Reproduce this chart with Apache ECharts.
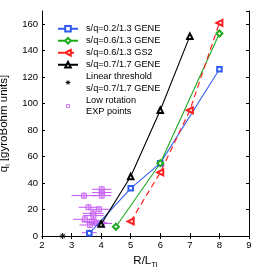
<!DOCTYPE html>
<html><head><meta charset="utf-8">
<script src="https://cdn.jsdelivr.net/npm/echarts@6/dist/echarts.min.js"></script>
<style>html,body{margin:0;padding:0;background:#fff}#c{width:257px;height:267px}</style>
</head><body><div id="c"></div>
<script>
const blueX=[3.6,5,6,8], blueY=[2,36,55,126];
const greenX=[4.5,6,8], greenY=[7,55,153];
const redX=[5,6,7,8], redY=[11,48,95,161];
const blackX=[4,5,6,7], blackY=[9,45,95,151];
const thrX=[2.7], thrY=[0];
const expX=[3.42,4.02,4.02,4.02,3.57,3.93,3.73,3.74,3.45,3.68,3.85,4.02,3.62,3.60];
const expY=[30.5,35.3,32.8,30.5,21.7,20.2,17.1,15.4,12.6,10.8,10.0,9.5,8.3,2.5];
const expErr=[0.42,0.33,0.33,0.33,0.33,0.35,0.35,0.35,0.40,0.35,0.35,0.35,0.35,0.25];
const names=['s/q=0.2/1.3 GENE','s/q=0.6/1.3 GENE','s/q=0.6/1.3 GS2','s/q=0.7/1.7 GENE','Linear threshold\ns/q=0.7/1.7 GENE','Low rotation\nEXP points'];
const xTicks={min:2,max:9,interval:1};
const yTicks={min:0,max:170,interval:20};

const zip=(a,b)=>a.map((v,i)=>[v,b[i]]);
const PURPLE='#c452f2';
const FONT='Liberation Sans, Arial, sans-serif';
function starPath(cx,cy,R,r){
  let s='';
  for(let k=0;k<16;k++){
    const ang=Math.PI/2+k*Math.PI/8, rad=(k%2===0)?R:r;
    const px=(cx+rad*Math.cos(ang)).toFixed(3), py=(cy-rad*Math.sin(ang)).toFixed(3);
    s+=(k===0?'M':'L')+px+','+py;
  }
  return s+'Z';
}
const chart=echarts.init(document.getElementById('c'),null,{renderer:'canvas'});
const axisCommon={axisLine:{lineStyle:{color:'#000',width:1}},axisTick:{inside:true,length:3,lineStyle:{color:'#000'}},splitLine:{show:false}};
const legendData=names.map((n,i)=>{
  if(i===5) return {name:n,icon:'path://M0,0M20,9M8,2.5L12,2.5L12,6.5L8,6.5Z',itemStyle:{color:'#fff',borderColor:PURPLE,borderWidth:1}};
  if(i===4) return {name:n,icon:'path://M0,0M20,9'+starPath(10,4.5,4,1.5),itemStyle:{color:'#000',borderWidth:0}};
  return {name:n};
});
chart.setOption({
  animation:false,
  grid:{left:42,right:8,top:11,bottom:31,containLabel:false,outerBoundsMode:'none'},
  textStyle:{fontFamily:FONT},
  legend:{
    orient:'vertical',left:52,top:18,itemWidth:20,itemHeight:7,itemGap:0.5,
    textStyle:{fontSize:9.2,fontFamily:FONT,color:'#000',lineHeight:11.5,padding:[0,0,0,3]},
    data:legendData
  },
  xAxis:[
    Object.assign({type:'value',min:xTicks.min,max:xTicks.max,interval:xTicks.interval,
      name:'{m|R/L}{s|Ti}',nameLocation:'middle',nameGap:9,
      nameTextStyle:{rich:{m:{fontSize:11.5,fontFamily:FONT,color:'#000'},s:{fontSize:8,fontFamily:FONT,color:'#000',padding:[8,0,0,0]}}},
      axisLabel:{fontSize:9.5,color:'#000',fontFamily:FONT,margin:4}},axisCommon),
    Object.assign({type:'value',position:'top',min:xTicks.min,max:xTicks.max,interval:xTicks.interval,axisLabel:{show:false}},axisCommon)
  ],
  yAxis:[
    Object.assign({type:'value',min:yTicks.min,max:yTicks.max,interval:yTicks.interval,
      name:'{m|q}{s|i}{m| [gyroBohm units]}',nameLocation:'middle',nameGap:30,
      nameTextStyle:{rich:{m:{fontSize:11.5,fontFamily:FONT,color:'#000'},s:{fontSize:7,fontFamily:FONT,color:'#000',padding:[8,0,0,0]}}},
      axisLabel:{fontSize:9.5,color:'#000',fontFamily:FONT,margin:4,showMaxLabel:false}},axisCommon),
    Object.assign({type:'value',position:'right',min:yTicks.min,max:yTicks.max,interval:yTicks.interval,axisLabel:{show:false}},axisCommon)
  ],
  series:[
    {name:names[0],type:'line',data:zip(blueX,blueY),symbol:'emptyRect',symbolSize:4.5,
      lineStyle:{color:'#2f5cf0',width:1.1},itemStyle:{color:'#2f5cf0'},z:5},
    {name:names[1],type:'line',data:zip(greenX,greenY),symbol:'emptyDiamond',symbolSize:6,
      lineStyle:{color:'#1faa1f',width:1.1},itemStyle:{color:'#1faa1f'},z:5},
    {name:names[2],type:'line',data:zip(redX,redY),symbol:'emptyTriangle',symbolRotate:90,symbolSize:6,
      lineStyle:{color:'#ff2020',width:1.2,type:[6,4]},itemStyle:{color:'#ff2020'},z:5},
    {name:names[3],type:'line',data:zip(blackX,blackY),symbol:'emptyTriangle',symbolSize:5.5,
      lineStyle:{color:'#000',width:1.1},itemStyle:{color:'#000'},z:5},
    {name:names[4],type:'custom',data:zip(thrX,thrY),z:10,clip:false,itemStyle:{color:'#000'},
      renderItem:function(params,api){
        const c=api.coord([api.value(0),api.value(1)]);
        const r=3, d=2.2, st={stroke:'#000',lineWidth:1};
        return {type:'group',children:[
          {type:'line',shape:{x1:c[0]-r,y1:c[1],x2:c[0]+r,y2:c[1]},style:st},
          {type:'line',shape:{x1:c[0],y1:c[1]-r,x2:c[0],y2:c[1]+r},style:st},
          {type:'line',shape:{x1:c[0]-d,y1:c[1]-d,x2:c[0]+d,y2:c[1]+d},style:st},
          {type:'line',shape:{x1:c[0]-d,y1:c[1]+d,x2:c[0]+d,y2:c[1]-d},style:st}
        ]};
      }},
    {type:'custom',data:expX.map((x,i)=>[x,expY[i],expErr[i]]),z:3,
      renderItem:function(params,api){
        const x=api.value(0),y=api.value(1),e=api.value(2);
        const a=api.coord([x-e,y]),b=api.coord([x+e,y]),c=api.coord([x,y]);
        return {type:'group',children:[
          {type:'line',shape:{x1:a[0],y1:a[1],x2:b[0],y2:b[1]},style:{stroke:PURPLE,lineWidth:1}},
          {type:'line',shape:{x1:c[0],y1:c[1]-3,x2:c[0],y2:c[1]+3},style:{stroke:PURPLE,lineWidth:1}}
        ]};
      }},
    {name:names[5],type:'scatter',data:zip(expX,expY),symbol:'rect',symbolSize:5,
      itemStyle:{color:'rgba(210,150,245,0.6)',borderColor:PURPLE,borderWidth:1},z:4}
  ]
});
</script></body></html>
